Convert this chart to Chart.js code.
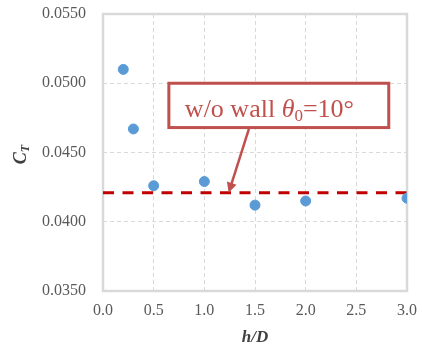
<!DOCTYPE html>
<html>
<head>
<meta charset="utf-8">
<script src="https://cdn.jsdelivr.net/npm/chart.js@4/dist/chart.umd.min.js"></script>
<style>
html,body{margin:0;padding:0;background:#fff;}
#wrap{width:422px;height:349px;position:relative;}
</style>
</head>
<body>
<div id="wrap"><canvas id="c" width="422" height="349"></canvas></div>
<script>
// Data
const hD = [0.2, 0.3, 0.5, 1.0, 1.5, 2.0, 3.0];
const CT = [0.0510, 0.0467, 0.0426, 0.0429, 0.0412, 0.0415, 0.0417];
const refX = [0.0, 3.0];
const refCT = [0.0421, 0.0421];
const xTicks = [0.0, 0.5, 1.0, 1.5, 2.0, 2.5, 3.0];
const yTicks = [0.0350, 0.0400, 0.0450, 0.0500, 0.0550];
const annotationText = 'w/o wall ';
const annotationSymbol = 'θ';
const annotationSub = '0';
const annotationRest = '=10°';
// annotation anchor in data coordinates
const boxX = [0.65, 2.82];
const boxY = [0.0500, 0.04680];
const arrowFrom = [1.44, 0.04670];
const arrowTo = [1.24, 0.0421];

const FONT = '"Liberation Serif", "Times New Roman", serif';
const RED = '#c0504d';

const framePlugin = {
  id: 'frame',
  beforeDatasetsDraw(chart) {
    const {ctx, chartArea: a} = chart;
    ctx.save();
    ctx.strokeStyle = '#d9d9d9';
    ctx.lineWidth = 2.5;
    ctx.strokeRect(a.left, a.top, a.right - a.left, a.bottom - a.top);
    ctx.restore();
  },
  afterDraw(chart) {
    const {ctx, scales: {x, y}} = chart;
    // y title C_T
    ctx.save();
    ctx.fillStyle = '#404040';
    ctx.translate(26, (chart.chartArea.top + chart.chartArea.bottom) / 2 + 2);
    ctx.rotate(-Math.PI / 2);
    ctx.font = 'italic bold 18px ' + FONT;
    ctx.textBaseline = 'alphabetic';
    const wC = ctx.measureText('C').width;
    ctx.font = 'italic bold 12px ' + FONT;
    const wT = ctx.measureText('T').width;
    const start = -(wC + wT) / 2;
    ctx.font = 'italic bold 18px ' + FONT;
    ctx.fillText('C', start, 0);
    ctx.font = 'italic bold 12px ' + FONT;
    ctx.fillText('T', start + wC, 3);
    ctx.restore();

    // annotation box
    const x1 = x.getPixelForValue(boxX[0]), x2 = x.getPixelForValue(boxX[1]);
    const y1 = y.getPixelForValue(boxY[0]), y2 = y.getPixelForValue(boxY[1]);
    ctx.save();
    // arrow
    const ax = x.getPixelForValue(arrowFrom[0]), ay = y.getPixelForValue(arrowFrom[1]);
    const bx = x.getPixelForValue(arrowTo[0]), by = y.getPixelForValue(arrowTo[1]);
    const ang = Math.atan2(by - ay, bx - ax);
    const hl = 10, hw = 5;
    ctx.strokeStyle = RED;
    ctx.fillStyle = RED;
    ctx.lineWidth = 2.5;
    ctx.beginPath();
    ctx.moveTo(ax, ay);
    ctx.lineTo(bx - Math.cos(ang) * hl * 0.8, by - Math.sin(ang) * hl * 0.8);
    ctx.stroke();
    ctx.beginPath();
    ctx.moveTo(bx, by);
    ctx.lineTo(bx - Math.cos(ang) * hl - Math.sin(ang) * hw, by - Math.sin(ang) * hl + Math.cos(ang) * hw);
    ctx.lineTo(bx - Math.cos(ang) * hl + Math.sin(ang) * hw, by - Math.sin(ang) * hl - Math.cos(ang) * hw);
    ctx.closePath();
    ctx.fill();

    ctx.fillStyle = '#ffffff';
    ctx.fillRect(x1, y1, x2 - x1, y2 - y1);
    ctx.lineWidth = 3;
    ctx.strokeRect(x1, y1, x2 - x1, y2 - y1);

    // text
    ctx.fillStyle = RED;
    ctx.textBaseline = 'alphabetic';
    let tx = x1 + 16;
    const ty = y2 - 11;
    ctx.font = '26px ' + FONT;
    ctx.fillText(annotationText, tx, ty);
    tx += ctx.measureText(annotationText).width;
    ctx.font = 'italic 26px ' + FONT;
    ctx.fillText(annotationSymbol, tx, ty);
    tx += ctx.measureText(annotationSymbol).width;
    ctx.font = '17px ' + FONT;
    ctx.fillText(annotationSub, tx, ty + 4);
    tx += ctx.measureText(annotationSub).width;
    ctx.font = '26px ' + FONT;
    ctx.fillText(annotationRest, tx, ty);
    ctx.restore();
  }
};

new Chart(document.getElementById('c'), {
  type: 'scatter',
  data: {
    datasets: [
      {
        label: 'C_T',
        data: hD.map((v, i) => ({x: v, y: CT[i]})),
        backgroundColor: '#5b9bd5',
        borderColor: '#5b9bd5',
        pointRadius: 5,
        pointHoverRadius: 5,
        order: 1
      },
      {
        label: 'w/o wall',
        type: 'line',
        data: refX.map((v, i) => ({x: v, y: refCT[i]})),
        borderColor: '#c00000',
        borderWidth: 3,
        borderDash: [11, 8.5],
        pointRadius: 0,
        fill: false,
        order: 2
      }
    ]
  },
  options: {
    responsive: false,
    animation: false,
    layout: {padding: {top: 14, right: 15, left: 0, bottom: 0}},
    plugins: {legend: {display: false}, tooltip: {enabled: false}},
    scales: {
      x: {
        type: 'linear',
        min: 0, max: 3,
        afterFit(s) { s.height = 58; s.paddingLeft = 0; s.paddingRight = 0; },
        afterBuildTicks(s) { s.ticks = xTicks.map(v => ({value: v})); },
        ticks: {
          callback: v => Number(v).toFixed(1),
          font: {family: FONT, size: 16},
          color: '#595959',
          padding: 10,
          maxRotation: 0
        },
        grid: {color: '#d9d9d9', lineWidth: 1, drawTicks: false},
        border: {display: false, dash: [4, 3]},
        title: {
          display: true,
          text: 'h/D',
          font: {family: FONT, size: 17, style: 'italic', weight: 'bold'},
          color: '#404040',
          padding: {top: 0, bottom: 1}
        }
      },
      y: {
        type: 'linear',
        min: 0.035, max: 0.055,
        afterFit(s) { s.width = 103; s.paddingTop = 0; s.paddingBottom = 0; },
        afterBuildTicks(s) { s.ticks = yTicks.map(v => ({value: v})); },
        ticks: {
          callback: v => Number(v).toFixed(4),
          font: {family: FONT, size: 16},
          color: '#595959',
          padding: 17
        },
        grid: {color: '#d9d9d9', lineWidth: 1, drawTicks: false},
        border: {display: false, dash: [4, 3]}
      }
    }
  },
  plugins: [framePlugin]
});
</script>
</body>
</html>
